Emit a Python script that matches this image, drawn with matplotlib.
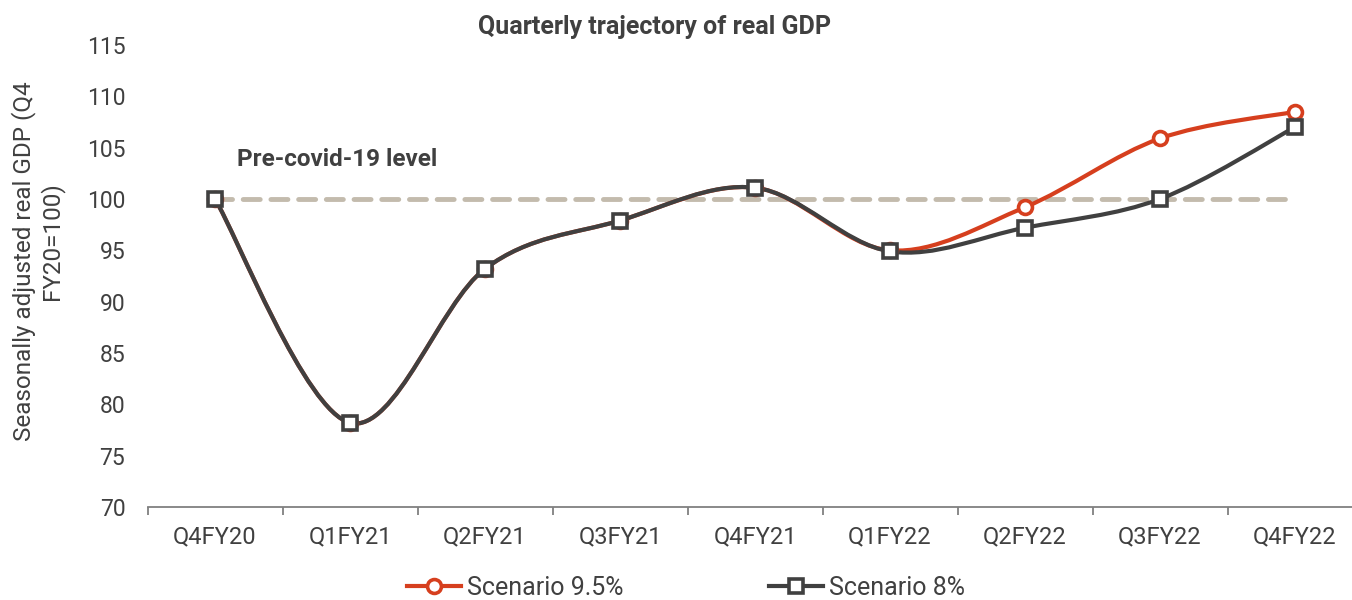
import numpy as np
import matplotlib
matplotlib.use("Agg")
import matplotlib.pyplot as plt
from matplotlib.path import Path
from matplotlib.patches import PathPatch
from matplotlib.lines import Line2D

categories = ["Q4FY20", "Q1FY21", "Q2FY21", "Q3FY21", "Q4FY21",
              "Q1FY22", "Q2FY22", "Q3FY22", "Q4FY22"]
scenario_95 = [100.0, 78.2, 93.2, 97.9, 101.1, 95.0, 99.2, 105.9, 108.5]
scenario_8 = [100.0, 78.2, 93.2, 97.9, 101.1, 94.9, 97.2, 100.0, 107.0]
pre_covid_level = 100.0

RED = "#D63F1E"
DARK = "#404040"
DASH = "#C3BBAD"

plt.rcParams['font.family'] = ['Roboto', 'DejaVu Sans']

fig = plt.figure(figsize=(13.52, 6.0), dpi=100)
ax = fig.add_axes([147.5/1352, (600-507)/600, 1215/1352, (507-45)/600])

x = np.arange(len(categories))


def smooth_path(xs, ys):
    pts = np.column_stack([xs, ys]).astype(float)
    n = len(pts)
    verts = [pts[0]]
    codes = [Path.MOVETO]
    for i in range(n - 1):
        p0 = pts[i - 1] if i > 0 else pts[i]
        p1 = pts[i]
        p2 = pts[i + 1]
        p3 = pts[i + 2] if i + 2 < n else pts[i + 1]
        c1 = p1 + (p2 - p0) / 6.0
        c2 = p2 - (p3 - p1) / 6.0
        verts += [c1, c2, p2]
        codes += [Path.CURVE4] * 3
    return Path(verts, codes)


ax.plot([x[0], x[-1]], [pre_covid_level]*2, color=DASH, lw=3.5,
        dashes=(3.5, 2.2), dash_capstyle='round', zorder=1)

for ys, col, mk in [(scenario_95, RED, 'o'), (scenario_8, DARK, 's')]:
    patch = PathPatch(smooth_path(x, ys), facecolor='none', edgecolor=col,
                      lw=3, zorder=2 if col == RED else 3)
    ax.add_patch(patch)
    ax.plot(x, ys, linestyle='none', marker=mk, ms=10 if mk == 'o' else 9.5,
            mfc='white', mec=col, mew=2.6, zorder=4 if col == RED else 5)

ax.set_xlim(-0.5, len(categories) - 0.5)
ax.set_ylim(70, 115)
ax.set_yticks(np.arange(70, 116, 5))
ax.set_xticks(x)
ax.set_xticklabels(categories)
ax.set_xticks(np.arange(-0.5, len(categories), 1), minor=True)
ax.tick_params(axis='x', which='major', length=0, pad=13, labelsize=17,
               labelcolor=DARK)
ax.tick_params(axis='x', which='minor', length=6, width=1.3, color='#808080',
               direction='out')
ax.tick_params(axis='y', length=0, pad=16, labelsize=16.5, labelcolor=DARK)
for s in ['top', 'right', 'left']:
    ax.spines[s].set_visible(False)
ax.spines['bottom'].set_color('#808080')
ax.spines['bottom'].set_linewidth(1.3)

fig.text(24/1352, 1 - 261/600, "Seasonally adjusted real GDP (Q4",
         rotation=90, fontsize=17.5, color=DARK, ha='center', va='center')
fig.text(52/1352, 1 - 241/600, "FY20=100)",
         rotation=90, fontsize=17.5, color=DARK, ha='center', va='center')

ax.text(0.16, 103.8, "Pre-covid-19 level", fontsize=17.5, fontweight='bold',
        color=DARK, ha='left', va='center')

fig.text(655/1352, 1 - 27/600, "Quarterly trajectory of real GDP",
         fontsize=18, fontweight='bold', color=DARK, ha='center', va='center')

handles = [Line2D([], [], color=RED, lw=3, marker='o', ms=10, mfc='white',
                  mec=RED, mew=2.6),
           Line2D([], [], color=DARK, lw=3, marker='s', ms=9.5, mfc='white',
                  mec=DARK, mew=2.6)]
fig.legend(handles, ["Scenario 9.5%", "Scenario 8%"], loc='center',
           bbox_to_anchor=(686/1352, 1 - 588/600), ncol=2, frameon=False,
           fontsize=18, handlelength=2.15, handletextpad=0.25,
           columnspacing=5.8, labelcolor=DARK, borderpad=0, borderaxespad=0)

fig.savefig("out.png", dpi=100)
